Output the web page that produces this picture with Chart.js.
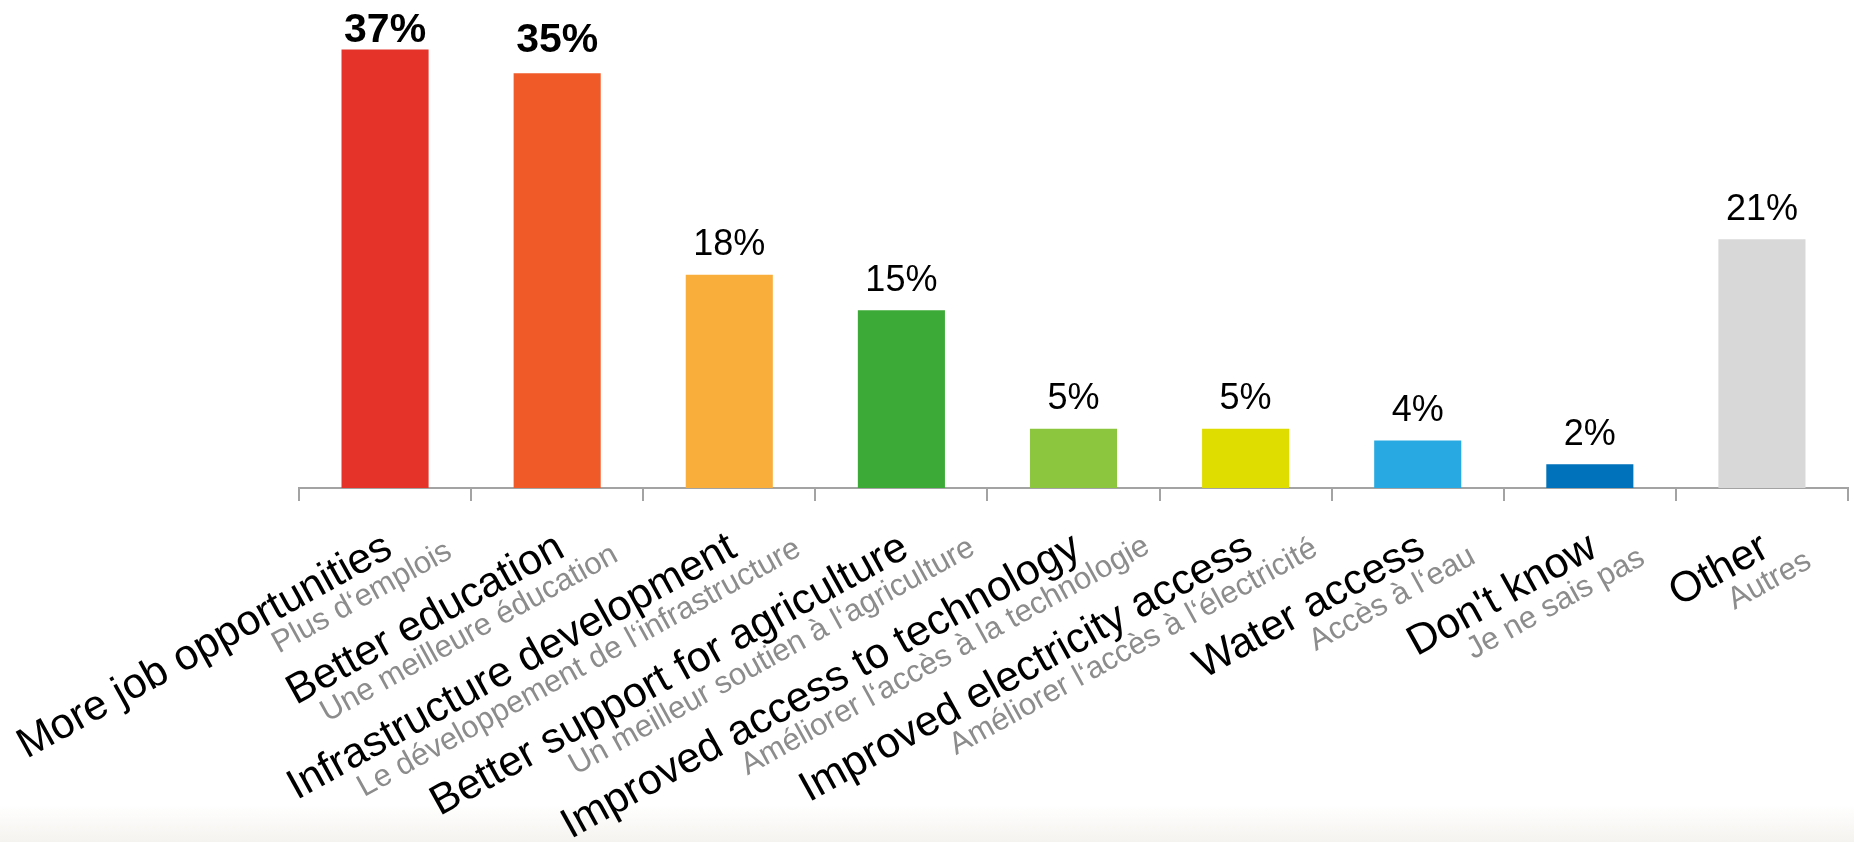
<!DOCTYPE html>
<html>
<head>
<meta charset="utf-8">
<title>Priorités</title>
<script src="https://cdn.jsdelivr.net/npm/chart.js@4"></script>
<style>
  html, body { margin: 0; padding: 0; }
  body {
    width: 1854px; height: 842px; overflow: hidden;
    background: linear-gradient(to bottom, #fff 0, #fff 805px, #f5f3ef 842px);
  }
  #wrap { position: relative; width: 1854px; height: 842px; }
</style>
</head>
<body>
<div id="wrap"><canvas id="chartPriorities"></canvas></div>
<script>
// ── Données ──────────────────────────────────────────────────────────────────
const categories = [
  'More job opportunities', 'Better education', 'Infrastructure development',
  'Better support for agriculture', 'Improved access to technology',
  'Improved electricity access', 'Water access', "Don't know", 'Other'
];
const categoriesFr = [
  'Plus d‘emplois', 'Une meilleure éducation', 'Le développement de l‘infrastructure',
  'Un meilleur soutien à l‘agriculture', 'Améliorer l‘accès à la technologie',
  'Améliorer l‘accès à l‘électricité', 'Accès à l‘eau', 'Je ne sais pas', 'Autres'
];
const values = [37, 35, 18, 15, 5, 5, 4, 2, 21];
const barColors = [
  '#e5332a', '#f05a29', '#f9ae3b', '#3caa36', '#8cc63f',
  '#dfdc00', '#29a9e1', '#0071bb', '#d8d8d8'
];

const FONT = "'Liberation Sans', Arial, Helvetica, sans-serif";
const AXIS_GREY = '#a3a3a3';

// les deux plus grandes valeurs sont mises en gras
const topTwo = [...values].sort((a, b) => b - a).slice(0, 2);

// ── Étiquettes de valeur au-dessus des barres ───────────────────────────────
const valueLabels = {
  id: 'valueLabels',
  afterDatasetsDraw(chart) {
    const { ctx } = chart;
    const meta = chart.getDatasetMeta(0);
    ctx.save();
    ctx.fillStyle = '#000';
    ctx.textAlign = 'center';
    ctx.textBaseline = 'alphabetic';
    meta.data.forEach((bar, i) => {
      const bold = topTwo.includes(values[i]);
      ctx.font = bold ? `bold 41px ${FONT}` : `36px ${FONT}`;
      const y = Math.max(bar.y - (bold ? 21 : 19.5), 42);
      ctx.fillText(values[i] + '%', bar.x, y);
    });
    ctx.restore();
  }
};

// ── Libellés bilingues inclinés sous l'axe ──────────────────────────────────
// anglais en noir, français en gris, décalé sous la ligne anglaise
const bilingualTicks = {
  id: 'bilingualTicks',
  afterDraw(chart) {
    const { ctx, chartArea } = chart;
    const xs = chart.scales.x;
    const angle = -29 * Math.PI / 180;
    ctx.save();
    ctx.textAlign = 'right';
    ctx.textBaseline = 'alphabetic';
    categories.forEach((label, i) => {
      const x = xs.getPixelForValue(i);
      ctx.save();
      ctx.translate(x - 5, chartArea.bottom + 41);
      ctx.rotate(angle);
      ctx.fillStyle = '#000';
      ctx.font = `42.5px ${FONT}`;
      const w = ctx.measureText(label).width;
      ctx.fillText(label, 0, 30);
      ctx.fillStyle = '#8c8c8c';
      ctx.font = `31px ${FONT}`;
      ctx.fillText(categoriesFr[i], 24 + 0.064 * w, 60);
      ctx.restore();
    });
    ctx.restore();
  }
};

new Chart(document.getElementById('chartPriorities'), {
  type: 'bar',
  data: {
    labels: categories,
    datasets: [{
      data: values,
      backgroundColor: barColors,
      borderWidth: 0,
      categoryPercentage: 1,
      barPercentage: 0.506
    }]
  },
  options: {
    responsive: true,
    maintainAspectRatio: false,
    animation: false,
    layout: { padding: { left: 299, right: 6, top: 14, bottom: 0 } },
    plugins: { legend: { display: false }, tooltip: { enabled: false } },
    scales: {
      x: {
        grid: {
          offset: true,
          drawOnChartArea: false,
          drawTicks: true,
          tickLength: 13,
          color: AXIS_GREY,
          lineWidth: 2
        },
        border: { color: AXIS_GREY, width: 2 },
        ticks: { display: false },
        afterFit(scale) { scale.height = 842 - 488; }
      },
      y: { display: false, min: 0, max: 40 }
    }
  },
  plugins: [valueLabels, bilingualTicks]
});
</script>
</body>
</html>
